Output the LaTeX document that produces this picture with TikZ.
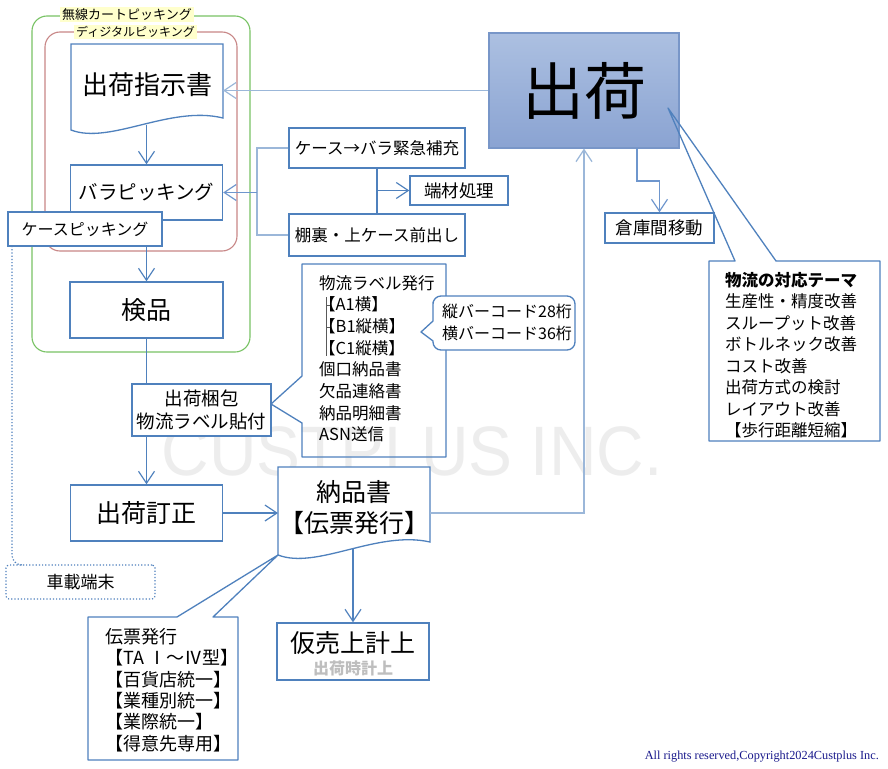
\documentclass[tikz,border=0pt]{standalone}
\usepackage{fontspec}
\setmainfont{Noto Sans CJK JP}
\newfontfamily\wmfont{Liberation Sans}
\newfontfamily\crfont{Liberation Serif}
\usetikzlibrary{arrows.meta,calc}
\definecolor{cblue}{RGB}{79,129,189}
\definecolor{cmid}{RGB}{110,150,205}
\definecolor{clight}{RGB}{155,183,217}
\definecolor{cgreen}{RGB}{120,195,100}
\definecolor{cred}{RGB}{200,135,135}
\definecolor{cyel}{RGB}{255,255,204}
\definecolor{ctop}{RGB}{172,192,225}
\definecolor{cbot}{RGB}{138,163,210}
\definecolor{cbord}{RGB}{120,150,200}
\definecolor{cwm}{RGB}{237,237,237}
\definecolor{ccr}{RGB}{25,25,140}
\definecolor{cgray}{RGB}{190,190,190}
\newcommand\fs[1]{\fontsize{#1}{#1}\selectfont}
\begin{document}
\begin{tikzpicture}[x=1pt,y=-1pt,
  box/.style={draw=cblue,line width=1.3pt,fill=white,inner sep=0pt,align=center},
  sz/.style 2 args={minimum width=#1pt,minimum height=#2pt},
  ln/.style={cblue,line width=1.2pt},
  arr/.style={cblue,line width=1.2pt,-{Straight Barb[length=12pt,width=16pt]}},
  docst/.style={draw=cblue,line width=1.3pt,fill=white},
  callout/.style={draw=cblue,line width=1.3pt,line join=round},
  dotln/.style={cblue,line width=1.2pt,dotted},
  lbl/.style={fill=cyel,inner xsep=2pt,inner ysep=1.5pt},
  txt/.style={inner sep=0pt,align=left,anchor=north west}
]
\useasboundingbox (0,0) rectangle (888,768);
\fill[white] (0,0) rectangle (888,768);

% watermark
\node[font=\wmfont\fontsize{70}{70}\selectfont,text=cwm,xscale=0.94,inner sep=0pt] (wm) at (412,451.5) {CUSTPLUS INC.};

% frames
\draw[cgreen,line width=1.1pt,rounded corners=15pt] (32,16) rectangle (250,352);
\draw[cred,line width=1.1pt,rounded corners=15pt] (45,32) rectangle (237,251);

% big box
\node[draw=cbord,line width=1.2pt,top color=ctop,bottom color=cbot,sz={190}{115},inner sep=0pt,font=\fs{62}] (shutsuka) at (584,90.5) {出荷};

% document shapes
\draw[docst] (71,44) -- (223,44) -- (223,118) .. controls (170,105) and (110,145) .. (71,130) -- cycle;
\node[font=\fs{26},inner sep=0pt] (shiji) at (147,85) {出荷指示書};
\coordinate (shijiE) at (223,90.5);
\coordinate (shijiB) at (146.5,125);

\draw[docst] (278,467) -- (430,467) -- (430,542) .. controls (377,530) and (317,570) .. (278,555) -- cycle;
\node[font=\fontsize{25}{31}\selectfont,align=center,inner sep=0pt] (nohin) at (354,507.5) {納品書\\【伝票発行】};
\coordinate (nohinW) at (278,513);
\coordinate (nohinE) at (430,513);
\coordinate (nohinB) at (353,549);

% boxes
\node[box,sz={152}{55},font=\fs{19.5}] (bara) at (146.5,192.5) {バラピッキング};
\node[box,sz={154}{34},font=\fs{16}] (case) at (85,229) {ケースピッキング};
\node[box,sz={153}{56},font=\fs{25}] (kenpin) at (146.5,310) {検品};
\node[box,sz={139}{52},font=\fontsize{18.5}{22.5}\selectfont] (konpo) at (201.5,410) {出荷梱包\\物流ラベル貼付};
\node[box,sz={152}{56},font=\fs{25}] (teisei) at (146.5,513) {出荷訂正};
\node[box,sz={152}{57}] (kari) at (353,651.5) {};
\node[font=\fs{25},inner sep=0pt] (karit) at (353,643) {仮売上計上};
\node[font=\bfseries\fs{16},text=cgray,inner sep=0pt] (karis) at (353,668) {出荷時計上};
\node[box,sz={176}{40},font=\fs{16.5}] (kyukyu) at (377,148) {ケース→バラ緊急補充};
\node[box,sz={98}{29},font=\fs{17.5}] (hazai) at (459,190.5) {端材処理};
\node[box,sz={176}{42},font=\fs{16.5}] (tanaura) at (377,235) {棚裏・上ケース前出し};
\node[box,sz={109}{30},font=\fs{17.5}] (soko) at (659.5,228) {倉庫間移動};
\node[draw=cblue,dotted,line width=1.2pt,rounded corners=3pt,sz={149}{34},inner sep=0pt,font=\fs{17}] (shasai) at (80.5,582) {車載端末};

% frame labels
\node[lbl,font=\fs{13}] (lblg) at (127,15) {無線カートピッキング};
\node[lbl,font=\fs{12}] (lblr) at (135.5,32) {ディジタルピッキング};

% connectors
\draw[arr,clight] (shutsuka.west) -- (shijiE);
\draw[arr] (shijiB) -- (bara.north);
\draw[arr] (case.south -| kenpin.north) -- (kenpin.north);
\draw[ln] (kenpin.south) -- (kenpin.south |- konpo.north);
\draw[arr] (kenpin.south |- konpo.south) -- (teisei.north);
\draw[arr] (teisei.east) -- (nohinW);
\draw[arr] (nohinB) -- (kari.north);
\draw[arr,clight] (nohinE) -| (shutsuka.south);
\coordinate (brk) at (257,192.5);
\draw[ln,clight] (kyukyu.west) -| (brk) |- (tanaura.west);
\draw[arr,cmid] (brk) -- (bara.east);
\draw[ln] (kyukyu.south) -- (tanaura.north);
\coordinate (hz) at (377,190.5);
\draw[arr] (hz) -- (hazai.west);
\coordinate (shB) at (637,148);
\coordinate (sk2) at (659.5,181);
\draw[arr,cmid] (shB) |- (sk2) -- (soko.north);
\coordinate (dA) at (12,246);
\coordinate (dB) at (24,565);
\draw[dotln,rounded corners=10pt] (dA) |- (dB);

% callouts
\draw[callout] (709,261) -- (735,261) -- (668,108) -- (776,261) -- (880,261) -- (880,441) -- (709,441) -- cycle;
\node[txt,font=\fontsize{16.5}{21.5}\selectfont] (theme) at (725,272) {\textbf{物流の対応テーマ}\\生産性・精度改善\\スループット改善\\ボトルネック改善\\コスト改善\\出荷方式の検討\\レイアウト改善\\【歩行距離短縮】};

\draw[callout] (302,264) -- (446,264) -- (446,457) -- (302,457) -- (302,423) -- (271,404) -- (302,376) -- cycle;
\node[txt,font=\fontsize{16.5}{21.7}\selectfont] (label) at (319,275) {物流ラベル発行\\【A1横】\\【B1縦横】\\【C1縦横】\\個口納品書\\欠品連絡書\\納品明細書\\ASN送信};
\draw[black!65,line width=0.8pt] (326,297) -- (326,356);
\draw[black!65,line width=0.8pt] (326,305) -- (330,305);
\draw[black!65,line width=0.8pt] (326,327) -- (330,327);

\draw[callout,fill=white] (433,341) {[rounded corners=8pt] -- (433,350) -- (575,350) -- (575,296) -- (433,296) -- (433,310)} -- (433,321) -- (421,332) -- cycle;
\node[txt,font=\fontsize{16}{21.5}\selectfont] (barcode) at (442,304) {縦バーコード28桁\\横バーコード36桁};

\draw[callout] (88,617) -- (177,617) -- (278,555) -- (213,617) -- (238,617) -- (238,760) -- (88,760) -- cycle;
\node[txt,font=\fontsize{18}{21.4}\selectfont] (denpyo) at (105,628) {伝票発行\\【TA Ⅰ～Ⅳ型】\\【百貨店統一】\\【業種別統一】\\【業際統一】\\【得意先専用】};

% copyright
\node[anchor=base east,inner sep=0pt,font=\crfont\fontsize{12.3}{13}\selectfont,text=ccr] (copy) at (879,759) {All rights reserved,Copyright2024Custplus Inc.};
\end{tikzpicture}
\end{document}
